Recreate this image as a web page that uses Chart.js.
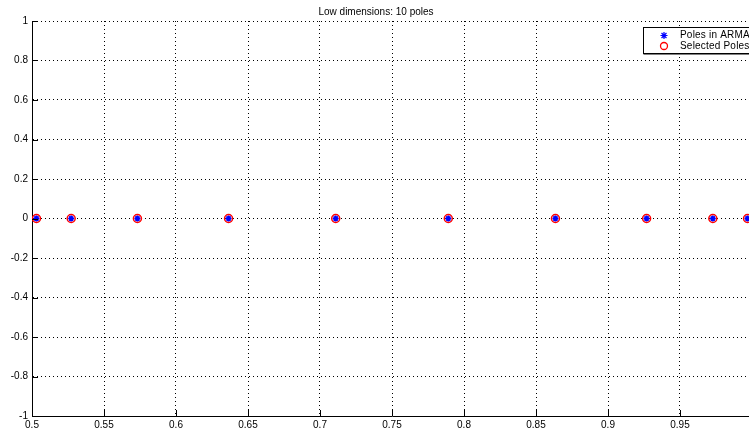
<!DOCTYPE html>
<html>
<head>
<meta charset="utf-8">
<script src="https://cdn.jsdelivr.net/npm/chart.js@4/dist/chart.umd.min.js"></script>
<style>
html,body{margin:0;padding:0;background:#fff;overflow:hidden;width:749px;height:432px;}
#wrap{position:absolute;left:0;top:0;width:784px;height:432px;}
</style>
</head>
<body>
<div id="wrap"><canvas id="c" width="784" height="432"></canvas></div>
<script>
const titleText = "Low dimensions: 10 poles";
const seriesNames = ["Poles in ARMA", "Selected Poles"];
const poleReal = [0.5031, 0.5272, 0.5732, 0.6365, 0.7109, 0.7891, 0.8635, 0.9268, 0.9728, 0.9969];
const poleImag = [0, 0, 0, 0, 0, 0, 0, 0, 0, 0];
const selReal = [0.5031, 0.5272, 0.5732, 0.6365, 0.7109, 0.7891, 0.8635, 0.9268, 0.9728, 0.9969];
const selImag = [0, 0, 0, 0, 0, 0, 0, 0, 0, 0];
const xTicks = [0.5, 0.55, 0.6, 0.65, 0.7, 0.75, 0.8, 0.85, 0.9, 0.95, 1];
const yTicks = [-1, -0.8, -0.6, -0.4, -0.2, 0, 0.2, 0.4, 0.6, 0.8, 1];

const FONT = "'Liberation Sans', Arial, sans-serif";

const innerTicks = {
  id: 'innerTicks',
  afterDatasetsDraw(chart) {
    const ctx = chart.ctx, a = chart.chartArea;
    const xs = chart.scales.x, ys = chart.scales.y;
    ctx.save();
    ctx.strokeStyle = '#000';
    ctx.lineWidth = 1;
    ctx.beginPath();
    xTicks.forEach(v => { const px = Math.round(xs.getPixelForValue(v)) + 0.5; ctx.moveTo(px, a.bottom); ctx.lineTo(px, a.bottom - 6); });
    yTicks.forEach(v => { const py = Math.round(ys.getPixelForValue(v)) + 0.5; ctx.moveTo(a.left, py); ctx.lineTo(a.left + 6, py); });
    ctx.stroke();
    ctx.restore();
  },
  afterDraw(chart) {
    const ctx = chart.ctx;
    const bx = 643.5, by = 27.5, bw = 150, bh = 26;
    ctx.save();
    ctx.fillStyle = '#fff';
    ctx.fillRect(bx, by, bw, bh);
    ctx.strokeStyle = '#000';
    ctx.lineWidth = 1;
    ctx.strokeRect(bx, by, bw, bh);
    ctx.beginPath();
    ctx.moveTo(bx, by + bh + 0.5); ctx.lineTo(bx + bw, by + bh + 0.5);
    ctx.stroke();
    ctx.font = "10px " + FONT;
    ctx.fillStyle = '#000';
    ctx.textBaseline = 'middle';
    ctx.textAlign = 'left';
    if ('letterSpacing' in ctx) ctx.letterSpacing = '0.2px';
    const rows = [35.5, 46];
    ctx.strokeStyle = '#0000ff';
    ctx.lineWidth = 1.2;
    const sx = 664, sy = rows[0], r = 3.5;
    ctx.beginPath();
    for (let i = 0; i < 4; i++) {
      const ang = i * Math.PI / 4;
      ctx.moveTo(sx - r * Math.cos(ang), sy - r * Math.sin(ang));
      ctx.lineTo(sx + r * Math.cos(ang), sy + r * Math.sin(ang));
    }
    ctx.stroke();
    ctx.strokeStyle = '#ff0000';
    ctx.lineWidth = 1.3;
    ctx.beginPath();
    ctx.arc(664, rows[1], 3.5, 0, Math.PI * 2);
    ctx.stroke();
    ctx.fillStyle = '#000';
    ctx.fillText(seriesNames[0], 680, rows[0]);
    ctx.fillText(seriesNames[1], 680, rows[1]);
    ctx.restore();
  }
};

const toPts = (xs, ys) => xs.map((x, i) => ({x: x, y: ys[i]}));

new Chart(document.getElementById('c'), {
  type: 'scatter',
  data: {
    datasets: [
      {
        label: seriesNames[1],
        data: toPts(selReal, selImag),
        pointStyle: 'circle',
        pointRadius: 4,
        borderColor: '#ff0000',
        backgroundColor: 'rgba(0,0,0,0)',
        borderWidth: 1.5,
        order: 2
      },
      {
        label: seriesNames[0],
        data: toPts(poleReal, poleImag),
        pointStyle: 'star',
        pointRadius: 3,
        borderColor: '#0000ff',
        backgroundColor: '#0000ff',
        borderWidth: 1.5,
        order: 1
      }
    ]
  },
  options: {
    responsive: false,
    animation: false,
    devicePixelRatio: 1,
    layout: { padding: { left: 0, right: 32, top: 0, bottom: 0 } },
    plugins: {
      legend: { display: false },
      tooltip: { enabled: false },
      title: {
        display: true,
        text: titleText,
        color: '#000',
        font: { family: FONT, size: 10, weight: 'normal', lineHeight: 1.2 },
        padding: { top: 6, bottom: 3 }
      }
    },
    scales: {
      x: {
        type: 'linear',
        min: 0.5, max: 1,
        afterBuildTicks: s => { s.ticks = xTicks.map(v => ({value: v})); },
        afterFit: s => { s.height = 16; },
        grid: { color: '#000', lineWidth: 1, drawTicks: false },
        border: { display: true, color: '#000', width: 1, dash: [1, 3] },
        ticks: {
          color: '#000', padding: 3, maxRotation: 0, autoSkip: false,
          font: { family: FONT, size: 10 },
          callback: v => String(Math.round(v * 100) / 100)
        }
      },
      y: {
        type: 'linear',
        min: -1, max: 1,
        afterBuildTicks: s => { s.ticks = yTicks.map(v => ({value: v})); },
        afterFit: s => { s.width = 32; },
        grid: { color: '#000', lineWidth: 1, drawTicks: false },
        border: { display: true, color: '#000', width: 1, dash: [1, 3] },
        ticks: {
          color: '#000', padding: 4, autoSkip: false,
          font: { family: FONT, size: 10 },
          callback: v => String(Math.round(v * 10) / 10)
        }
      }
    }
  },
  plugins: [innerTicks]
});
</script>
</body>
</html>
